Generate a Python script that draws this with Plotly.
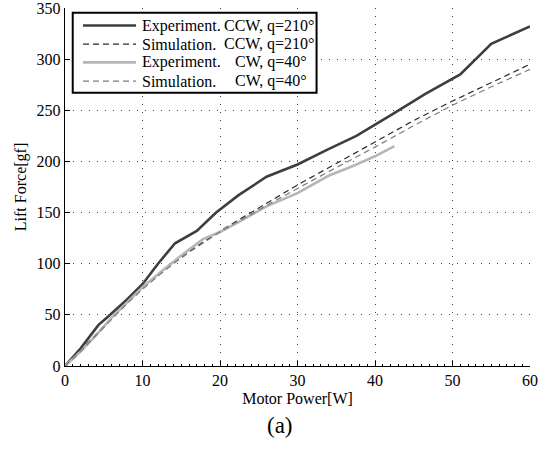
import plotly.graph_objects as go

# Experiment CCW (q=210)
exp_ccw_x = [0, 1, 2, 3, 4.3, 5.5, 8, 10, 12, 14.2, 17, 19.5, 22.4, 26, 30, 34, 37.6, 42, 46.5, 51, 55, 60]
exp_ccw_y = [0, 8, 17, 27, 40, 48, 65, 80, 100, 120, 132, 150, 167, 185, 197, 212, 225, 245, 266, 285, 315, 332]

# Simulation CCW
sim_ccw_x = [0, 2, 4, 6, 8, 10, 12, 14, 16, 18, 20, 22, 24, 26, 28, 30, 35, 40, 45, 50, 55, 60]
sim_ccw_y = [0, 15, 31, 47, 62, 76, 89, 101, 112, 122, 132, 141, 150, 159, 168, 177, 198, 219, 240, 259, 277, 295]

# Experiment CW (q=40)
exp_cw_x = [0, 2, 4, 6, 8, 10, 12.7, 15, 17.8, 20, 22.2, 26, 30, 34, 37, 40, 42.5]
exp_cw_y = [0, 14, 30, 47, 62, 77, 94, 108, 124, 131, 140, 156, 169, 186, 195, 205, 215]

# Simulation CW
sim_cw_x = [0, 2, 4, 6, 8, 10, 12, 14, 16, 18, 20, 22, 24, 26, 28, 30, 35, 40, 45, 50, 55, 60]
sim_cw_y = [0, 14, 30, 46, 61, 75, 88, 100, 111, 121, 131, 140, 148, 157, 165, 173.5, 194, 214, 235, 255, 273, 290]

x_ticks = [0, 10, 20, 30, 40, 50, 60]
y_ticks = [0, 50, 100, 150, 200, 250, 300, 350]

legend_col1 = ["Experiment.", "Simulation.", "Experiment.", "Simulation."]
legend_col2 = ["CCW, q=210°", "CCW, q=210°", "CW, q=40°", "CW, q=40°"]

FONT = "Liberation Serif"
C_EXP_CCW = "#3e3e3e"
C_SIM_CCW = "#2a2a2a"
C_EXP_CW = "#b6b6b6"
C_SIM_CW = "#7c7c7c"
DASH = "6px,4px"

styles = [
    dict(color=C_EXP_CCW, width=2.6),
    dict(color=C_SIM_CCW, width=1.2, dash=DASH),
    dict(color=C_EXP_CW, width=2.6),
    dict(color=C_SIM_CW, width=1.2, dash=DASH),
]
series = [(exp_ccw_x, exp_ccw_y), (sim_ccw_x, sim_ccw_y), (exp_cw_x, exp_cw_y), (sim_cw_x, sim_cw_y)]

fig = go.Figure()
for (xs, ys), st, n1, n2 in zip(series, styles, legend_col1, legend_col2):
    fig.add_trace(go.Scatter(x=xs, y=ys, mode="lines", name=n1 + " " + n2,
                             line=st, showlegend=False, hoverinfo="skip"))

# manual legend (to match compact MATLAB-style legend)
shapes = [dict(type="rect", xref="paper", yref="paper", x0=0.0166, x1=0.541,
               y0=0.763, y1=0.987, line=dict(color="black", width=2),
               fillcolor="white", layer="above")]
annotations = []
row_y = [0.951, 0.899, 0.848, 0.796]
col2_x = [0.3376, 0.3376, 0.3613, 0.3613]
for i, st in enumerate(styles):
    shapes.append(dict(type="line", xref="paper", yref="paper", x0=0.0387, x1=0.1527,
                       y0=row_y[i], y1=row_y[i], line=st, layer="above"))
    annotations.append(dict(text=legend_col1[i], x=0.161, y=row_y[i], xref="paper", yref="paper",
                            xanchor="left", yanchor="middle", showarrow=False,
                            font=dict(family=FONT, size=16, color="black")))
    annotations.append(dict(text=legend_col2[i], x=col2_x[i], y=row_y[i], xref="paper", yref="paper",
                            xanchor="left", yanchor="middle", showarrow=False,
                            font=dict(family=FONT, size=16, color="black")))

annotations.append(dict(text="(a)", x=0.462, y=-0.165, xref="paper", yref="paper",
                        xanchor="center", yanchor="middle", showarrow=False,
                        font=dict(family=FONT, size=23, color="black")))

fig.update_layout(
    width=550, height=454,
    margin=dict(l=65, r=20, t=8, b=88),
    paper_bgcolor="white", plot_bgcolor="white",
    font=dict(family=FONT, size=16, color="black"),
    showlegend=False,
    hovermode=False,
    xaxis=dict(range=[0, 60], tickvals=x_ticks, showgrid=True,
               gridcolor="#444444", griddash="1px,7px", gridwidth=1,
               showline=True, linecolor="black", linewidth=1.2,
               ticks="inside", ticklen=5, tickcolor="black", zeroline=False,
               ticklabeloverflow="allow",
               minor=dict(dtick=1, ticks="inside", ticklen=2, tickcolor="black", showgrid=False),
               title=dict(text="Motor Power[W]", standoff=4, font=dict(family=FONT, size=16)),
               tickfont=dict(family=FONT, size=16)),
    yaxis=dict(range=[0, 350], tickvals=y_ticks, showgrid=True,
               gridcolor="#444444", griddash="1px,7px", gridwidth=1,
               showline=True, linecolor="black", linewidth=1.2,
               ticks="inside", ticklen=5, tickcolor="black", zeroline=False,
               ticklabeloverflow="allow", automargin=False,
               title=dict(text="Lift Force[gf]", standoff=6, font=dict(family=FONT, size=16)),
               tickfont=dict(family=FONT, size=16)),
    shapes=shapes,
    annotations=annotations,
)

fig.write_html("out.html", config={"displayModeBar": False, "staticPlot": True},
               post_script="document.body.style.margin='0';")
